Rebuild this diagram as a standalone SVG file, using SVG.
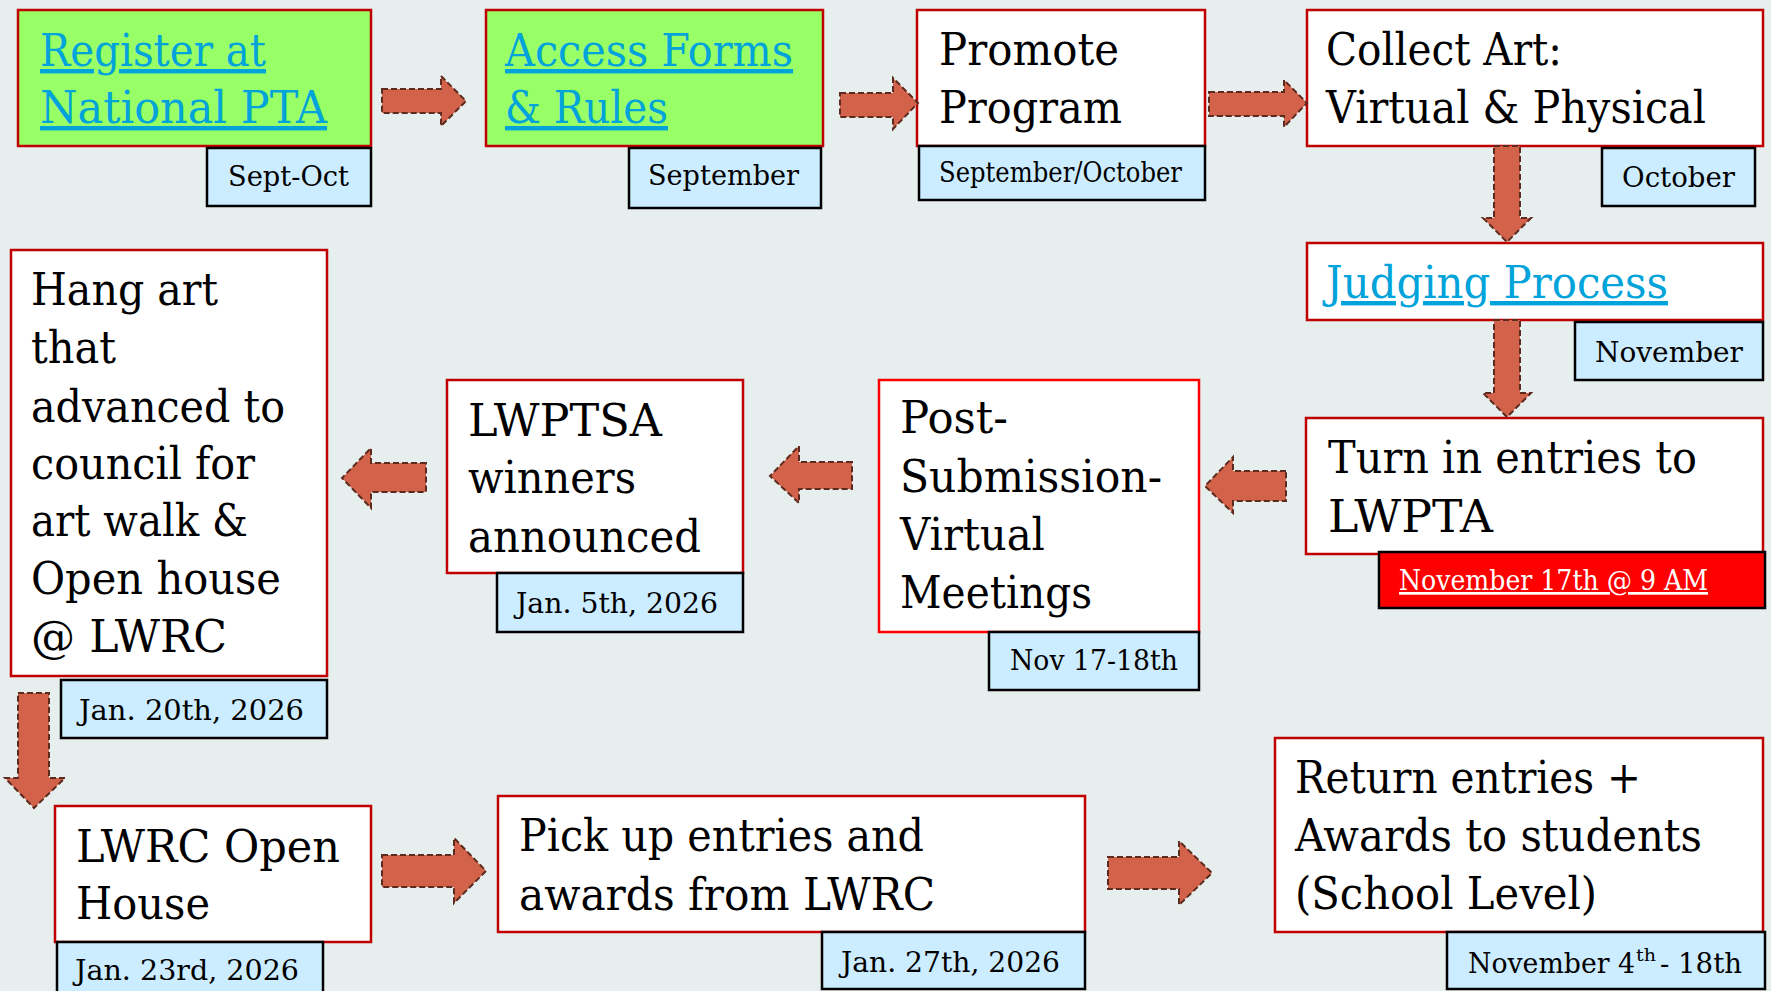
<svg xmlns="http://www.w3.org/2000/svg" width="1771" height="991" viewBox="0 0 1771 991">
<style>
.bg{fill:#E6EEEE}
.node{fill:#FFFFFF;stroke:#C00000;stroke-width:2.5}
.green{fill:#99FF66}
.bright{stroke:#FF0000}
.date{fill:#CCECFF;stroke:#000000;stroke-width:2.5}
.alert{fill:#FF0000;stroke:#000000;stroke-width:2.5}
.t{font-family:"DejaVu Serif","Liberation Serif",serif;font-size:44px;fill:#000000}
.link{fill:#00A3DA;text-decoration:underline}
.d{font-family:"DejaVu Serif","Liberation Serif",serif;font-size:27px;fill:#000000}
.w{fill:#FFFFFF;text-decoration:underline}
.sup{font-size:16px}
.arrow{fill:#D2634A;stroke:#5C2A1E;stroke-width:2;stroke-dasharray:6 3}
</style>
<rect class="bg" x="0" y="0" width="1771" height="991"/>

<g id="register">
<rect class="node green" x="18" y="10" width="353" height="136"/>
<text class="t link" x="40" y="66" textLength="226" lengthAdjust="spacingAndGlyphs">Register at</text>
<text class="t link" x="40" y="123" textLength="287" lengthAdjust="spacingAndGlyphs">National PTA</text>
<rect class="date" x="207" y="148" width="164" height="58"/>
<text class="d" x="228" y="186" textLength="121" lengthAdjust="spacingAndGlyphs">Sept-Oct</text>
</g>

<g id="access">
<rect class="node green" x="486" y="10" width="337" height="136"/>
<text class="t link" x="505" y="66" textLength="288" lengthAdjust="spacingAndGlyphs">Access Forms</text>
<text class="t link" x="505" y="123" textLength="163" lengthAdjust="spacingAndGlyphs">&amp; Rules</text>
<rect class="date" x="629" y="148" width="192" height="60"/>
<text class="d" x="648" y="185" textLength="151" lengthAdjust="spacingAndGlyphs">September</text>
</g>

<g id="promote">
<rect class="node" x="917" y="10" width="288" height="136"/>
<text class="t" x="939" y="65" textLength="180" lengthAdjust="spacingAndGlyphs">Promote</text>
<text class="t" x="939" y="123" textLength="183" lengthAdjust="spacingAndGlyphs">Program</text>
<rect class="date" x="919" y="146" width="286" height="54"/>
<text class="d" x="939" y="182" font-size="25" textLength="243" lengthAdjust="spacingAndGlyphs">September/October</text>
</g>

<g id="collect">
<rect class="node" x="1307" y="10" width="456" height="136"/>
<text class="t" x="1326" y="65" textLength="236" lengthAdjust="spacingAndGlyphs">Collect Art:</text>
<text class="t" x="1326" y="123" textLength="380" lengthAdjust="spacingAndGlyphs">Virtual &amp; Physical</text>
<rect class="date" x="1602" y="148" width="153" height="58"/>
<text class="d" x="1622" y="187" textLength="113" lengthAdjust="spacingAndGlyphs">October</text>
</g>

<g id="judging">
<rect class="node" x="1307" y="243" width="456" height="77"/>
<text class="t link" x="1326" y="298" textLength="342" lengthAdjust="spacingAndGlyphs">Judging Process</text>
<rect class="date" x="1575" y="322" width="188" height="58"/>
<text class="d" x="1595" y="362" textLength="148" lengthAdjust="spacingAndGlyphs">November</text>
</g>

<g id="turnin">
<rect class="node" x="1306" y="418" width="457" height="136"/>
<text class="t" x="1328" y="473" textLength="369" lengthAdjust="spacingAndGlyphs">Turn in entries to</text>
<text class="t" x="1328" y="532" textLength="165" lengthAdjust="spacingAndGlyphs">LWPTA</text>
<rect class="alert" x="1379" y="552" width="386" height="56"/>
<text class="d w" x="1399" y="590" textLength="309" lengthAdjust="spacingAndGlyphs">November 17th @ 9 AM</text>
</g>

<g id="postsubmission">
<rect class="node bright" x="879" y="380" width="320" height="252"/>
<text class="t" x="900" y="433" textLength="108" lengthAdjust="spacingAndGlyphs">Post-</text>
<text class="t" x="900" y="492" textLength="262" lengthAdjust="spacingAndGlyphs">Submission-</text>
<text class="t" x="900" y="550" textLength="145" lengthAdjust="spacingAndGlyphs">Virtual</text>
<text class="t" x="900" y="608" textLength="192" lengthAdjust="spacingAndGlyphs">Meetings</text>
<rect class="date" x="989" y="632" width="210" height="58"/>
<text class="d" x="1010" y="670" textLength="168" lengthAdjust="spacingAndGlyphs">Nov 17-18th</text>
</g>

<g id="lwptsa">
<rect class="node" x="447" y="380" width="296" height="193"/>
<text class="t" x="468" y="436" textLength="194" lengthAdjust="spacingAndGlyphs">LWPTSA</text>
<text class="t" x="468" y="493" textLength="168" lengthAdjust="spacingAndGlyphs">winners</text>
<text class="t" x="468" y="552" textLength="233" lengthAdjust="spacingAndGlyphs">announced</text>
<rect class="date" x="497" y="573" width="246" height="59"/>
<text class="d" x="516" y="613" textLength="202" lengthAdjust="spacingAndGlyphs">Jan. 5th, 2026</text>
</g>

<g id="hangart">
<rect class="node" x="11" y="250" width="316" height="426"/>
<text class="t" x="31" y="305" textLength="187" lengthAdjust="spacingAndGlyphs">Hang art</text>
<text class="t" x="31" y="363" textLength="85" lengthAdjust="spacingAndGlyphs">that</text>
<text class="t" x="31" y="422" textLength="254" lengthAdjust="spacingAndGlyphs">advanced to</text>
<text class="t" x="31" y="479" textLength="224" lengthAdjust="spacingAndGlyphs">council for</text>
<text class="t" x="31" y="536" textLength="217" lengthAdjust="spacingAndGlyphs">art walk &amp;</text>
<text class="t" x="31" y="594" textLength="250" lengthAdjust="spacingAndGlyphs">Open house</text>
<text class="t" x="31" y="652" textLength="196" lengthAdjust="spacingAndGlyphs">@ LWRC</text>
<rect class="date" x="61" y="680" width="266" height="58"/>
<text class="d" x="79" y="720" textLength="225" lengthAdjust="spacingAndGlyphs">Jan. 20th, 2026</text>
</g>

<g id="lwrcopenhouse">
<rect class="node" x="55" y="806" width="316" height="136"/>
<text class="t" x="76" y="862" textLength="264" lengthAdjust="spacingAndGlyphs">LWRC Open</text>
<text class="t" x="76" y="919" textLength="134" lengthAdjust="spacingAndGlyphs">House</text>
<rect class="date" x="57" y="942" width="266" height="54"/>
<text class="d" x="75" y="980" textLength="224" lengthAdjust="spacingAndGlyphs">Jan. 23rd, 2026</text>
</g>

<g id="pickup">
<rect class="node" x="498" y="796" width="587" height="136"/>
<text class="t" x="519" y="851" textLength="405" lengthAdjust="spacingAndGlyphs">Pick up entries and</text>
<text class="t" x="519" y="910" textLength="416" lengthAdjust="spacingAndGlyphs">awards from LWRC</text>
<rect class="date" x="822" y="932" width="263" height="57"/>
<text class="d" x="841" y="972" textLength="219" lengthAdjust="spacingAndGlyphs">Jan. 27th, 2026</text>
</g>

<g id="return">
<rect class="node" x="1275" y="738" width="488" height="194"/>
<text class="t" x="1295" y="793" textLength="346" lengthAdjust="spacingAndGlyphs">Return entries +</text>
<text class="t" x="1295" y="851" textLength="407" lengthAdjust="spacingAndGlyphs">Awards to students</text>
<text class="t" x="1295" y="909" textLength="302" lengthAdjust="spacingAndGlyphs">(School Level)</text>
<rect class="date" x="1447" y="932" width="318" height="57"/>
<text class="d" x="1468" y="973" textLength="167" lengthAdjust="spacingAndGlyphs">November 4</text>
<text class="d sup" x="1636" y="961" textLength="20" lengthAdjust="spacingAndGlyphs">th</text>
<text class="d" x="1660" y="973" textLength="82" lengthAdjust="spacingAndGlyphs">- 18th</text>
</g>

<g id="connectors">
<polygon class="arrow" points="382,89 441,89 441,76 466,101 441,126 441,113 382,113"/>
<polygon class="arrow" points="840,93 893,93 893,78 918,103 893,129 893,117 840,117"/>
<polygon class="arrow" points="1209,92 1284,92 1284,80 1307,103 1284,127 1284,116 1209,116"/>
<polygon class="arrow" points="1494,146 1520,146 1520,218 1531,218 1507,242 1483,218 1494,218"/>
<polygon class="arrow" points="1494,320 1520,320 1520,393 1531,393 1507,417 1483,393 1494,393"/>
<polygon class="arrow" points="1286,471 1233,471 1233,457 1205,486 1233,513 1233,501 1286,501"/>
<polygon class="arrow" points="852,462 799,462 799,446 770,476 799,503 799,489 852,489"/>
<polygon class="arrow" points="426,463 371,463 371,448 342,478 371,508 371,492 426,492"/>
<polygon class="arrow" points="18,693 49,693 49,778 65,778 34,808 5,778 18,778"/>
<polygon class="arrow" points="382,855 454,855 454,838 486,871 454,903 454,887 382,887"/>
<polygon class="arrow" points="1108,857 1179,857 1179,841 1212,873 1179,905 1179,889 1108,889"/>
</g>
</svg>
